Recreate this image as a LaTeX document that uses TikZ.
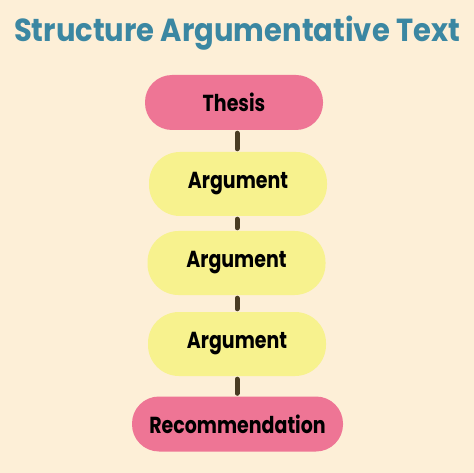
\documentclass[tikz,border=0pt]{standalone}
\usepackage{graphicx}
\usepackage{fontspec}
\setmainfont{Poppins}
\definecolor{bgc}{HTML}{FDEFD7}
\definecolor{pinkc}{HTML}{EE7595}
\definecolor{yelc}{HTML}{F7F28E}
\definecolor{titlec}{HTML}{3B87A2}
\definecolor{linec}{HTML}{4A3C22}
\newcommand\talltext[1]{\scalebox{1}[1.22]{#1}}
\tikzset{
  box/.style={draw=none, rounded corners=27pt, minimum width=178pt, minimum height=64pt, inner sep=0pt,
    font=\fontsize{19}{22}\selectfont\bfseries, text=black},
  pinkbox/.style={box, fill=pinkc, minimum height=55pt},
  yelbox/.style={box, fill=yelc, rounded corners=31pt},
  link/.style={draw=linec, line width=5pt, line cap=round, shorten <=3pt, shorten >=3pt}
}
\begin{document}
\begin{tikzpicture}[x=1pt,y=-1pt]
\fill[bgc] (0,0) rectangle (474,473);
\useasboundingbox (0,0) rectangle (474,473);
\node[text=titlec, font=\fontsize{29}{34}\selectfont\bfseries] (title) at (237,33) {\scalebox{1}[1.1]{Structure Argumentative Text}};
\node[pinkbox] (thesis) at (234,102.5) {\talltext{Thesis}};
\node[yelbox] (a1) at (238,184) {\talltext{Argument}};
\node[yelbox] (a2) at (236.5,263) {\talltext{Argument}};
\node[yelbox] (a3) at (237,344) {\talltext{Argument}};
\node[pinkbox, minimum width=211pt] (rec) at (237.5,424) {\talltext{Recommendation}};
\draw[link] (thesis.south -| 237,0) -- (a1.north -| 237,0);
\draw[link] (a1.south -| 237,0) -- (a2.north -| 237,0);
\draw[link] (a2.south -| 237,0) -- (a3.north -| 237,0);
\draw[link] (a3.south -| 237,0) -- (rec.north -| 237,0);
\end{tikzpicture}
\end{document}
